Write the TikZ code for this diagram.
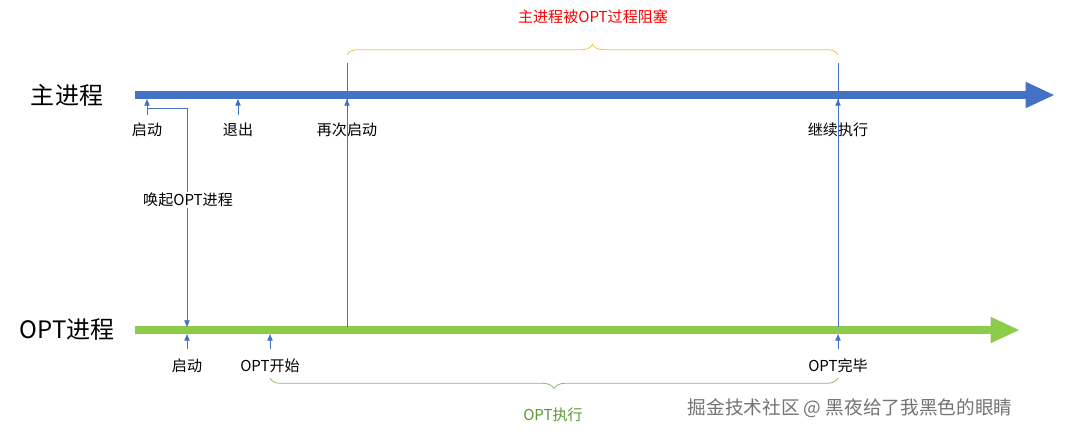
\documentclass[tikz,border=0pt]{standalone}
\usepackage{fontspec}
\setmainfont{Noto Sans CJK SC}
\usetikzlibrary{arrows.meta,decorations.pathreplacing}
\definecolor{mblue}{HTML}{4472C4}
\definecolor{mgreen}{HTML}{8DCB4A}
\definecolor{bgreen}{HTML}{5A9A32}
\definecolor{byel}{HTML}{F2C541}
\tikzset{
 lbl/.style={font=\fontsize{11.3}{13}\selectfont,inner sep=1pt},
 big/.style={font=\fontsize{18}{21}\selectfont},
 thin/.style={mblue,line width=0.6pt},
 tick/.style={thin,-{Triangle[width=4pt,length=5pt]}},
}
\begin{document}
\begin{tikzpicture}[x=0.75pt,y=-0.75pt]
\useasboundingbox (0,0) rectangle (1080,436);
\coordinate (m0) at (135,95); \coordinate (m1) at (1055,95);
\coordinate (o0) at (135,330); \coordinate (o1) at (1020,330);
\draw[mblue,line width=6pt,-{Triangle[width=18pt,length=22pt]}] (m0) -- (m1);
\draw[mgreen,line width=6pt,-{Triangle[width=18pt,length=22pt]}] (o0) -- (o1);
\node[big] (mt) at (67,95) {主进程};
\node[big] (ot) at (67,330) {OPT进程};
\foreach \x/\n/\t in {147/a/启动,238/b/退出,347/c/再次启动,838/d/继续执行}{
  \coordinate (\n b) at (\x,115);
  \coordinate (\n t) at (\x,99);
  \draw[tick] (\n b) -- (\n t);
  \node[lbl] (\n l) at (\x,130) {\t};
}
\foreach \x/\n/\t in {187/e/启动,270/f/OPT开始,838/g/OPT完毕}{
  \coordinate (\n b) at (\x,349);
  \coordinate (\n t) at (\x,334);
  \draw[tick] (\n b) -- (\n t);
  \node[lbl] (\n l) at (\x,366) {\t};
}
\coordinate (w0) at (147,108); \coordinate (w1) at (187,108); \coordinate (w2) at (187,327);
\draw[tick] (w0) -- (w1) -- (w2);
\node[lbl,fill=white] (wl) at (188,200) {唤起OPT进程};
\coordinate (v1t) at (347,63); \coordinate (v1b) at (347,327);
\coordinate (v2t) at (838,63); \coordinate (v2b) at (838,327);
\draw[thin] (v1t) -- (v1b);
\draw[thin] (v2t) -- (v2b);
\coordinate (b1a) at (347,55); \coordinate (b1b) at (838,55);
\draw[byel,line width=0.6pt,decorate,decoration={brace,amplitude=8pt}] (b1a) -- (b1b);
\node[lbl,text=red] (b1l) at (593,17) {主进程被OPT过程阻塞};
\coordinate (b2a) at (270,378); \coordinate (b2b) at (838,378);
\draw[bgreen!70,line width=0.6pt,decorate,decoration={brace,amplitude=8pt}] (b2b) -- (b2a);
\node[lbl,text=bgreen] (b2l) at (553,415) {OPT执行};
\node[font=\fontsize{14}{16}\selectfont,text=gray!90!black] (wm) at (850,408) {掘金技术社区 @ 黑夜给了我黑色的眼睛};
\end{tikzpicture}
\end{document}
